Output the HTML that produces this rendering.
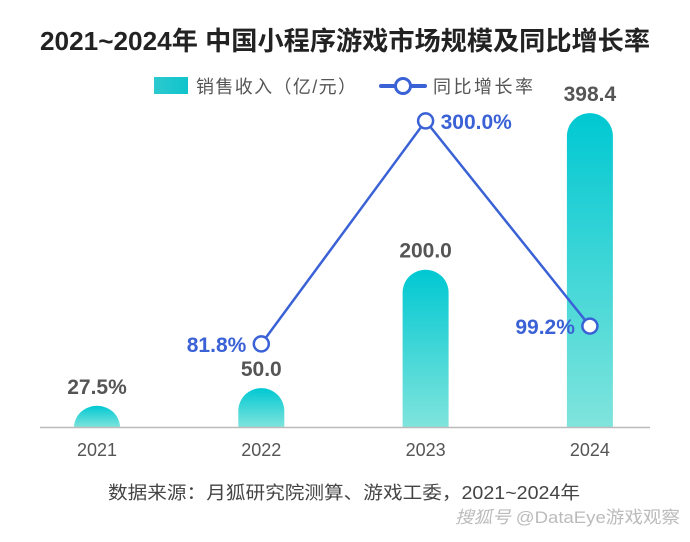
<!DOCTYPE html>
<html><head><meta charset="utf-8">
<style>
body{margin:0;background:#fff;width:690px;height:537px;overflow:hidden;font-family:"Liberation Sans","Noto Sans CJK SC",sans-serif;}
svg text{font-family:"Liberation Sans","Noto Sans CJK SC",sans-serif;}
</style></head><body>
<svg id="chart" width="690" height="537" viewBox="0 0 690 537">
<defs>
<linearGradient id="bg" x1="0" y1="0" x2="0" y2="1"><stop offset="0" stop-color="#00c8d2"/><stop offset="1" stop-color="#80e4dc"/></linearGradient>
<linearGradient id="lg" x1="0" y1="0" x2="1" y2="0"><stop offset="0" stop-color="#2cc9cf"/><stop offset="1" stop-color="#10c4cc"/></linearGradient>
</defs>
<text x="345" y="50" text-anchor="middle" font-size="26" font-weight="bold" fill="#222" textLength="610" lengthAdjust="spacingAndGlyphs">2021~2024年 中国小程序游戏市场规模及同比增长率</text>
<g>
<rect x="154" y="77" width="34" height="17" fill="url(#lg)"/>
<text x="196" y="93" font-size="18" fill="#555" textLength="160">销售收入（亿/元）</text>
<line x1="381" y1="86" x2="425" y2="86" stroke="#3a62d6" stroke-width="4" stroke-linecap="round"/>
<circle cx="403" cy="86" r="7.5" fill="#fff" stroke="#3a62d6" stroke-width="3"/>
<text x="433" y="93" font-size="18" fill="#555" textLength="100">同比增长率</text>
</g>
<g id="plot"></g>
<line x1="40" y1="427.5" x2="650" y2="427.5" stroke="#bbb" stroke-width="1.5"/>
<text x="108" y="499" font-size="18" fill="#444" textLength="472" lengthAdjust="spacingAndGlyphs">数据来源：月狐研究院测算、游戏工委，2021~2024年</text>
<text x="455" y="523" font-size="17" fill="#bbb" textLength="225" lengthAdjust="spacingAndGlyphs"><tspan font-style="italic">搜狐号</tspan> @DataEye游戏观察</text>
</svg>
<script>
const categories=["2021","2022","2023","2024"];
const revenue=[27.5,50.0,200.0,398.4];
const revenueLabels=["27.5%","50.0","200.0","398.4"];
const growthYears=["2022","2023","2024"];
const growth=[81.8,300.0,99.2];
const growthLabels=["81.8%","300.0%","99.2%"];
const NS="http://www.w3.org/2000/svg";
const g=document.getElementById('plot');
const base=427.5;
const xPos=c=>97+categories.indexOf(c)*164.3;
const yBar=v=>base-v*0.789;
const yLine=v=>base-v*1.022;
function mk(t,a){const e=document.createElementNS(NS,t);for(const k in a)e.setAttribute(k,a[k]);g.appendChild(e);return e;}
const bw=46;
categories.forEach((c,i)=>{
  const x=xPos(c),top=yBar(revenue[i]),r=bw/2;
  const h=base-top;
  let d;
  if(h>=r){d=`M${x-r},${base}V${top+r}A${r},${r} 0 0 1 ${x+r},${top+r}V${base}Z`;}
  else{d=`M${x-r},${base}A${r},${h} 0 0 1 ${x+r},${base}Z`;}
  const p=mk('path',{d:d,fill:'url(#bg)'});
  
  
  const t=mk('text',{x:x,y:top-12,'text-anchor':'middle','font-size':'21','font-weight':'bold',fill:'#555'});
  t.textContent=revenueLabels[i];
  
  
  const xl=mk('text',{x:x,y:456,'text-anchor':'middle','font-size':'18',fill:'#555'});
  xl.textContent=c;
  
  
});
const pts=growthYears.map((c,i)=>[xPos(c),yLine(growth[i])]);
const pl=mk('polyline',{points:pts.map(p=>p.join(',')).join(' '),fill:'none',stroke:'#3a62d6','stroke-width':'2.5'});


growthYears.forEach((c,i)=>{
  const [x,y]=pts[i];
  const m=mk('circle',{cx:x,cy:y,r:7.5,fill:'#fff',stroke:'#3a62d6','stroke-width':'2.5'});
  
  
  const right=(i===1);
  const t=mk('text',{x:right?x+15:x-15,y:y+8,'text-anchor':right?'start':'end','font-size':'21','font-weight':'bold',fill:'#3a62d6'});
  t.textContent=growthLabels[i];
  
  
});
</script>
</body></html>
